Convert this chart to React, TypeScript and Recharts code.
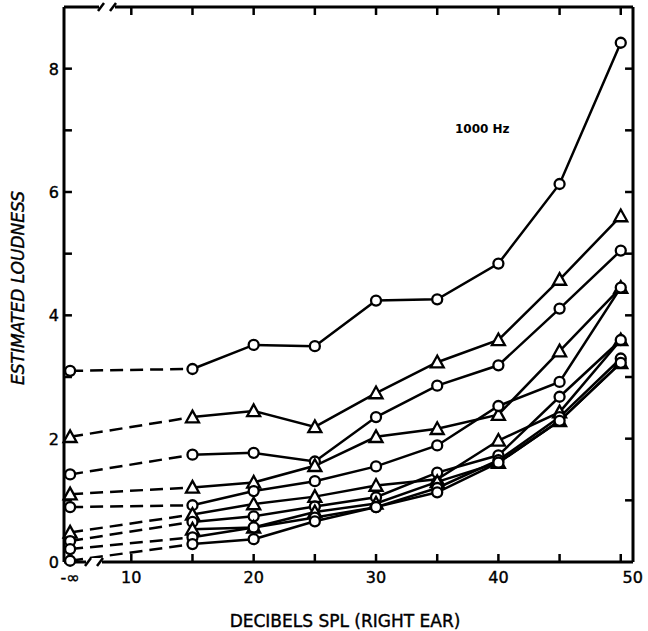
import React from 'react'
import { LineChart, Line, XAxis, YAxis, ReferenceLine } from 'recharts'

// x positions in dB SPL; -inf is drawn at 5 on the broken axis
const NEG_INF = 5
const levels = [NEG_INF, 15, 20, 25, 30, 35, 40, 45, 50]

// estimated loudness per curve, one value per level (null = no point)
const curve1 = [3.1, 3.13, 3.52, 3.5, 4.24, 4.26, 4.84, 6.13, 8.42]
const curve2 = [2.03, 2.35, 2.45, 2.19, 2.74, 3.24, 3.6, 4.58, 5.61]
const curve3 = [1.42, 1.74, 1.77, 1.63, 2.35, 2.86, 3.19, 4.11, 5.05]
const curve4 = [1.1, 1.21, 1.29, 1.56, 2.03, 2.16, 2.39, 3.42, 4.45]
const curve5 = [0.89, 0.92, 1.15, 1.31, 1.55, 1.89, 2.53, 2.92, 4.45]
const curve6 = [0.48, 0.77, 0.94, 1.06, 1.24, 1.34, 1.97, 2.43, 3.6]
const curve7 = [0.34, 0.65, 0.74, 0.9, 1.05, 1.45, 1.73, 2.68, 3.6]
const curve8 = [null, 0.53, 0.56, 0.81, 0.95, 1.3, 1.61, 2.29, 3.23]
const curve9 = [0.21, 0.4, 0.56, 0.72, 0.89, 1.2, 1.65, 2.35, 3.3]
const curve10 = [0.02, 0.29, 0.37, 0.66, 0.89, 1.13, 1.61, 2.29, 3.23]

const curves = [curve1, curve2, curve3, curve4, curve5, curve6, curve7, curve8, curve9, curve10]
const markers = ['circle', 'triangle', 'circle', 'triangle', 'circle', 'triangle', 'circle', 'triangle', 'circle', 'circle']

const xTicks = [10, 15, 20, 25, 30, 35, 40, 45, 50]
const xLabelTicks = [NEG_INF, 10, 20, 30, 40, 50]
const xLabels: Record<number, string> = { 5: '-\u221e', 10: '10', 20: '20', 30: '30', 40: '40', 50: '50' }
const yTicks = [1, 2, 3, 4, 5, 6, 7, 8]
const yLabels = [0, 2, 4, 6, 8]

// solid part from 15 dB on, dashed part from -inf to 15 dB
const data = levels.map((x, i) => {
  const row: any = { x }
  curves.forEach((c, k) => {
    row['s' + k] = i === 0 ? null : c[i]
    row['d' + k] = i <= 1 ? c[i] : null
  })
  return row
})

const FONT = '"DejaVu Sans", sans-serif'
const AXIS = { stroke: '#000', strokeWidth: 3 }
const XDOM = [4.5, 51]
const YDOM = [0, 9]
const TICK_DX = 0.65 // inward tick length in x units (~8px)
const TICK_DY = 0.13 // inward tick length in y units (~8px)

function Marker({ cx, cy, kind }: any) {
  if (cx == null || cy == null || isNaN(cy)) return null
  if (kind === 'triangle') {
    const s = 6.5
    return (
      <polygon
        points={`${cx},${cy - s} ${cx - s},${cy + s * 0.8} ${cx + s},${cy + s * 0.8}`}
        fill="#fff" stroke="#000" strokeWidth={2.3}
      />
    )
  }
  return <circle cx={cx} cy={cy} r={5} fill="#fff" stroke="#000" strokeWidth={2.3} />
}

function BottomLabel({ x, y, payload }: any) {
  const v = payload.value
  return (
    <text x={v === 50 ? x + 12 : x} y={y + 20} textAnchor="middle" fontFamily={FONT} fontSize={16}
      fill="#000" stroke="#000" strokeWidth={0.4}>
      {xLabels[v]}
    </text>
  )
}

function LeftLabel({ x, y, payload }: any) {
  return (
    <text x={x - 4} y={y + 6} textAnchor="end" fontFamily={FONT} fontSize={16}
      fill="#000" stroke="#000" strokeWidth={0.4}>
      {payload.value}
    </text>
  )
}

const tickLine = (key: string, a: any, b: any) => (
  <ReferenceLine key={key} segment={[a, b]} stroke="#000" strokeWidth={2.5} ifOverflow="visible" />
)

export default function App() {
  return (
    <div style={{ position: 'relative', width: 648, height: 631 }}>
      <style>{'body{margin:0;background:#fff}'}</style>
      <LineChart width={648} height={631} data={data} margin={{ top: 6, right: 14, bottom: 0, left: 0 }}>
        {/* frame, nearest to the plot */}
        <XAxis dataKey="x" type="number" domain={XDOM} ticks={xTicks} height={1} tick={false} tickLine={false} axisLine={AXIS} />
        <YAxis type="number" domain={YDOM} width={1} tick={false} tickLine={false} axisLine={AXIS} />
        <XAxis xAxisId="top" orientation="top" dataKey="x" type="number" domain={XDOM} height={1} tick={false} tickLine={false} axisLine={AXIS} />
        <YAxis yAxisId="right" orientation="right" type="number" domain={YDOM} width={1} tick={false} tickLine={false} axisLine={AXIS} />
        {/* tick labels */}
        <XAxis
          xAxisId="lab" dataKey="x" type="number" domain={XDOM} ticks={xLabelTicks} interval={0}
          height={68} tickSize={0} tickMargin={0} tickLine={false} axisLine={false} tick={<BottomLabel />}
        />
        <YAxis
          yAxisId="lab" type="number" domain={YDOM} ticks={yLabels} width={63} interval={0}
          tickSize={0} tickMargin={0} tickLine={false} axisLine={false} tick={<LeftLabel />}
        />
        <Line xAxisId="top" yAxisId="right" dataKey="s0" stroke="none" dot={false} isAnimationActive={false} />
        <Line xAxisId="lab" yAxisId="lab" dataKey="s0" stroke="none" dot={false} isAnimationActive={false} />
        {/* inward tick marks on all four sides */}
        {xTicks.map((v) => tickLine('b' + v, { x: v, y: YDOM[0] }, { x: v, y: YDOM[0] + TICK_DY }))}
        {xTicks.map((v) => tickLine('t' + v, { x: v, y: YDOM[1] }, { x: v, y: YDOM[1] - TICK_DY }))}
        {yTicks.map((v) => tickLine('l' + v, { x: XDOM[0], y: v }, { x: XDOM[0] + TICK_DX, y: v }))}
        {yTicks.map((v) => tickLine('r' + v, { x: XDOM[1], y: v }, { x: XDOM[1] - TICK_DX, y: v }))}
        {curves.map((_, k) => (
          <Line
            key={'d' + k} dataKey={'d' + k} stroke="#000" strokeWidth={2.5} strokeDasharray="13 7"
            isAnimationActive={false} connectNulls={false}
            dot={(p: any) => p.payload.x === NEG_INF
              ? <Marker key={'dd' + k + p.index} cx={p.cx} cy={p.cy} kind={markers[k]} />
              : <g key={'dd' + k + p.index} />}
          />
        ))}
        {curves.map((_, k) => (
          <Line
            key={'s' + k} dataKey={'s' + k} stroke="#000" strokeWidth={2.5}
            isAnimationActive={false} connectNulls={false}
            dot={(p: any) => <Marker key={'sd' + k + p.index} cx={p.cx} cy={p.cy} kind={markers[k]} />}
          />
        ))}
      </LineChart>
      <svg width={648} height={631} style={{ position: 'absolute', left: 0, top: 0, pointerEvents: 'none' }}>
        {/* axis breaks */}
        <rect x={99} y={3} width={16} height={8} fill="#fff" />
        <line x1={98} y1={11} x2={104} y2={3} stroke="#000" strokeWidth={2.5} />
        <line x1={110} y1={11} x2={116} y2={3} stroke="#000" strokeWidth={2.5} />
        <rect x={86} y={558} width={16} height={8} fill="#fff" />
        <line x1={85} y1={566} x2={91} y2={558} stroke="#000" strokeWidth={2.5} />
        <line x1={97} y1={566} x2={103} y2={558} stroke="#000" strokeWidth={2.5} />
        <text x={455} y={133} fontFamily={FONT} fontSize={12} fontWeight="bold" fill="#000">1000 Hz</text>
        <text x={345} y={627} textAnchor="middle" fontFamily={FONT} fontSize={17} fill="#000" stroke="#000" strokeWidth={0.4}>
          DECIBELS SPL (RIGHT EAR)
        </text>
        <text
          x={24} y={288} textAnchor="middle" fontFamily={FONT} fontSize={17} fontStyle="italic"
          fill="#000" stroke="#000" strokeWidth={0.4} transform="rotate(-90 24 288)"
        >
          ESTIMATED LOUDNESS
        </text>
      </svg>
    </div>
  )
}
